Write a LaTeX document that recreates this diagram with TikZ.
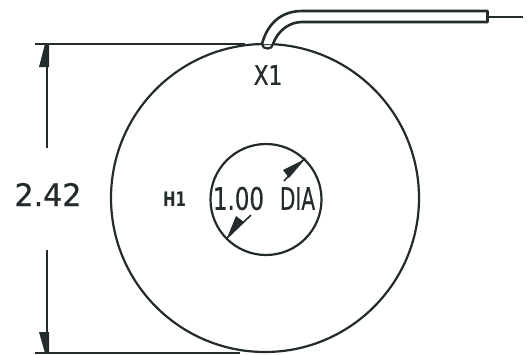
\documentclass[tikz,border=0pt]{standalone}
\usepackage{fontspec}
\setmainfont{DejaVu Sans}
\newfontfamily\cadfont[FakeBold=0.6]{DejaVu Sans}
\definecolor{ink}{HTML}{232B2D}
\tikzset{
  x=1pt,y=-1pt,
  thick line/.style={draw=ink,line width=2.6pt,line cap=round,line join=round},
  dim line/.style={draw=ink,line width=2.2pt},
  lbl/.style={inner sep=0pt,text=ink,anchor=center},
}
\begin{document}
\begin{tikzpicture}
\useasboundingbox (0,0) rectangle (532,354);
\coordinate (c) at (265,198);
\node[circle,draw=ink,line width=2.2pt,minimum size=308pt,inner sep=0pt] (outer) at (c) {};
\node[circle,draw=ink,line width=2.2pt,minimum size=111pt,inner sep=0pt] (inner) at (266,199.5) {};
% lead
\coordinate (ua) at (262,44);\coordinate (ub) at (302,11);
\coordinate (la) at (273,44);\coordinate (lb) at (302,22);
\coordinate (ue) at (487.5,11);\coordinate (le) at (487.5,22);
\coordinate (w1) at (488,17);\coordinate (w2) at (523,17);
\fill[white] (ua) .. controls (267,25) and (280,11) .. (ub) -- (ue) -- (le) -- (lb) .. controls (290,22) and (278,30) .. (la) -- cycle;
\draw[thick line] (ua) .. controls (267,25) and (280,11) .. (ub) -- (ue) -- (le) -- (lb) .. controls (290,22) and (278,30) .. (la);
\draw[thick line,line width=2.2pt] (ua) .. controls (262,50) and (273,50) .. (la);
\draw[draw=ink,line width=1.5pt] (w1) -- (w2);
% dimension
\coordinate (t1) at (35,44);\coordinate (t2) at (245,44);
\coordinate (b1) at (35,353);\coordinate (b2) at (240,353);
\coordinate (v1) at (47,44);\coordinate (v2) at (47,148);
\coordinate (v3) at (47,250);\coordinate (v4) at (47,353);
\draw[dim line] (t1) -- (t2);
\draw[dim line,line width=1.4pt] (b1) -- (b2);
\draw[dim line] (v1) -- (v2);
\draw[dim line] (v3) -- (v4);
\fill[ink] (45,44) -- (39,67) -- (49,67) -- (49,44) -- cycle;
\fill[ink] (45,353) -- (39,332) -- (49,332) -- (49,353) -- cycle;
% inner leaders
\coordinate (a1) at (305,158);\coordinate (a1e) at (284,181);
\coordinate (a2) at (227,238);\coordinate (a2e) at (251,215);
\draw[draw=ink,line width=1.6pt] (a1) -- (a1e);
\draw[draw=ink,line width=1.6pt] (a2) -- (a2e);
\fill[ink] (305,159) -- (283,170) -- (289,178) -- cycle;
\fill[ink] (227,238) -- (236,216) -- (244,222) -- cycle;
% labels
\node[lbl,font=\cadfont\fontsize{31}{31}\selectfont,xscale=.97] (dim) at (48,194.5) {2.42};
\node[lbl,font=\cadfont\fontsize{27}{27}\selectfont,xscale=.8] (x1) at (268,75) {X1};
\node[lbl,font=\bfseries\fontsize{20}{20}\selectfont,xscale=.75] (h1) at (174.5,199.5) {H1};
\node[lbl,font=\cadfont\fontsize{31}{31}\selectfont,xscale=.74] (dia) at (238.5,198.5) {1.00};
\node[lbl,font=\cadfont\fontsize{31}{31}\selectfont,xscale=.65] (dia2) at (297.5,198.5) {DIA};
\end{tikzpicture}
\end{document}
